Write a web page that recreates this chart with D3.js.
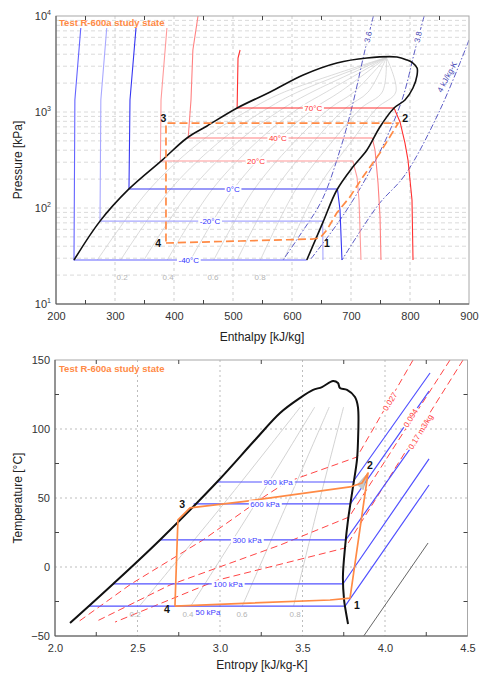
<!DOCTYPE html>
<html>
<head>
<meta charset="utf-8">
<script src="https://cdn.jsdelivr.net/npm/d3@7"></script>
<style>
  body { margin: 0; background: #fff; }
  svg { display: block; font-family: "Liberation Sans", Arial, sans-serif; }
</style>
</head>
<body>
<svg id="chart" width="480" height="677"></svg>
<script>
// ---------- P-h diagram (h kJ/kg, P kPa) ----------
const phDome = [[230.5,28.7],[274.6,73],[323.7,158],[380,316],[422,536],[456,715],[507,1101],[563,1615],[619,2427],[676,3237],[727,3652],[778,3743],[795,3481],[805,3237],[812,2872],[812,2427],[805,1778],[791.5,1334],[773,1101],[749,698],[727,402],[703,267],[676,154],[652,70],[625,28.7]]

// isotherms: liquid part (top -> saturation), flat two-phase part, superheated part
const isoM40 = [[242,7500],[232,1334],[230.5,28.7],[625,28.7]]
const isoM20 = [[286,7500],[276,1334],[274.6,73],[652,73],[652.5,28.7]]
const iso0 = [[335.6,7500],[325.4,1334],[323.7,158],[677,158],[681.4,95],[684.7,28.7]]
const iso20 = [[388,7500],[378,1334],[377,309],[703,309],[710.2,210],[713.6,121],[716.9,28.7]]
const iso40 = [[440.7,10000],[432,4424],[428.8,1334],[424,536],[736,536],[740.7,402],[745.8,182],[749.2,81],[750.8,28.7]]
const iso70 = [[512,4424],[508.5,3652],[507,1101],[773,1101],[783.1,787],[791.5,475],[796.6,316],[803.4,121],[805.1,28.7]]
const isoNames = ['-40°C', '-20°C', '0°C', '20°C', '40°C', '70°C']
const isoLabelH = [425, 461, 500, 539, 576, 636]
const isoLabelP = [28.7, 73, 158, 309, 536, 1101]

// vapour quality lines inside the dome
const qualityP = [28.7, 158, 536, 1101, 1615, 3700]
const qualityRowsPh = [
  [270, 359, 453, 533, 587, 760],
  [309.5, 394.6, 484.8, 559.6, 610, 760],
  [349, 430, 516, 586, 634, 760],
  [388.5, 465.4, 547.6, 612, 658, 760],
  [428, 501, 579, 638.5, 681, 760],
  [467.4, 536.3, 610.4, 664.8, 705, 760],
  [507, 572, 642, 691, 729, 760],
  [546.4, 607.1, 673.2, 717.4, 753, 760],
  [586, 643, 705, 744, 776, 760]
]
const qualityNames = ['0.2', '0.4', '0.6', '0.8']
const qualityLabelH = [312, 390, 466, 546]

// isentropes
const isen36 = [[738,10000],[723.7,4424],[701.7,1127],[681.4,402],[650.8,121],[613.6,52.3],[584.7,28.7]]
const isen38 = [[824,10000],[808.5,4424],[788.1,1432],[761,550],[723.7,196],[681.4,75],[630.5,28.7]]
const isen40 = [[900,5623],[850.8,1049],[791.5,221],[745.8,107],[684.7,28.7]]
const isenNames = ['3.6', '3.8', '4 kJ/kg-K']
const isenLabelH = [728.8, 813.6, 862.7]
const isenLabelP = [6040, 6040, 2317]

// study-state cycle
const cycPhH = [386.4, 512, 634, 647.5, 659, 676, 698, 720, 749, 780, 386.4, 386.4]
const cycPhP = [43.2, 45.3, 47.5, 48.7, 59, 89, 130, 210, 374, 765, 765, 43.2]
const cycNames = ['1', '2', '3', '4']
const cycLabelH = [659, 792, 382, 373]
const cycLabelP = [43.2, 866, 866, 43.2]

// ---------- T-s diagram (s kJ/kg-K, T °C) ----------
const tsDome = [[2.091,-40.6],[2.352,-12.3],[2.636,19.6],[2.982,61.6],[3.212,92.0],[3.364,111.6],[3.485,122.5],[3.564,128.3],[3.618,130.4],[3.685,134.8],[3.715,133.3],[3.727,129.7],[3.770,128.3],[3.818,123.2],[3.836,115.9],[3.836,89.9],[3.830,77.5],[3.806,58.0],[3.776,34.1],[3.758,14.5],[3.745,-7.2],[3.752,-23.9],[3.758,-29.0],[3.776,-41.3]]

const bar900 = [[2.982,61.6],[3.805,61.6],[4.273,140.6]]
const bar600 = [[2.840,45.7],[3.790,45.7],[4.267,127.5]]
const bar300 = [[2.636,19.6],[3.762,19.6],[4.267,105]]
const bar100 = [[2.352,-12.3],[3.745,-12.3],[4.267,78.3]]
const bar50 = [[2.204,-28.3],[3.758,-28.3],[4.267,59.4]]
const barNames = ['900 kPa', '600 kPa', '300 kPa', '100 kPa', '50 kPa']
const barLabelS = [3.352, 3.273, 3.164, 3.048, 2.927]
const barLabelT = [61.6, 45.7, 19.6, -12.3, -33]

const vol027 = [[4.170,150],[3.830,79.7],[3.406,61.6],[3.273,51.4],[2.897,19.6],[2.461,-12.3],[2.139,-39.9]]
const vol094 = [[4.394,150],[3.782,36.2],[3.364,15.9],[2.697,-13],[2.242,-39.9]]
const vol17 = [[4.473,150],[3.758,13.8],[2.988,-9.4],[2.364,-39.9]]
const volNames = ['0.027', '0.094', '0.17 m3/kg']
const volLabelS = [4.03, 4.155, 4.215]
const volLabelT = [120, 108, 98]

const qualityT = [-28.3, 45.7, 115.9]
const qualityRowsTs = [
  [2.512, 3.022, 3.487],
  [2.823, 3.214, 3.574],
  [3.135, 3.406, 3.662],
  [3.446, 3.598, 3.749]
]
const qualityLabelS = [2.485, 2.806, 3.133, 3.455]

const lowLine = [[3.867,-50.7],[4.261,17.4]]

const cycTsS = [2.727, 2.745, 2.818, 3.164, 3.788, 3.861, 3.897, 3.788, 3.667, 2.727]
const cycTsT = [-28.3, 34.1, 42.8, 47.8, 58.0, 60.9, 68.1, -22.5, -23.9, -28.3]
const hatch = [[3.830,59.4],[3.897,68.1],[3.867,55.8]]
const cycTsLabelS = [3.830, 3.909, 2.770, 2.679]
const cycTsLabelT = [-27.5, 73.9, 45.7, -30.4]

// ---------- layout ----------
const ph = { left: 56, right: 469, top: 16, bottom: 304 }
const ts = { left: 55, right: 467.5, top: 360, bottom: 636 }

const xPh = d3.scaleLinear().domain([200, 900]).range([ph.left, ph.right])
const yPh = d3.scaleLog().domain([10, 10000]).range([ph.bottom, ph.top])
const xTs = d3.scaleLinear().domain([2, 4.5]).range([ts.left, ts.right])
const yTs = d3.scaleLinear().domain([-50, 150]).range([ts.bottom, ts.top])

const svg = d3.select('#chart')
const defs = svg.append('defs')
function clip (id, b) {
  defs.append('clipPath').attr('id', id).append('rect')
    .attr('x', b.left).attr('y', b.top).attr('width', b.right - b.left).attr('height', b.bottom - b.top)
}
clip('clipPh', ph)
clip('clipTs', ts)

const orange = '#ff8a45'

// white-boxed text sitting on a line
function lineLabel (g, x, y, text, color, angle, size) {
  const grp = g.append('g').attr('transform', 'translate(' + x + ',' + y + ') rotate(' + (angle || 0) + ')')
  const t = grp.append('text').attr('text-anchor', 'middle').attr('dy', '0.35em')
    .attr('font-size', size || 8).attr('fill', color).text(text)
  const b = t.node().getBBox()
  grp.insert('rect', 'text').attr('x', b.x - 1.5).attr('y', b.y + 0.5).attr('width', b.width + 3).attr('height', b.height - 1).attr('fill', '#fff')
}

function frame (b, xMinor, yMinor, xs, ys) {
  const g = svg.append('g')
  g.append('rect').attr('x', b.left).attr('y', b.top).attr('width', b.right - b.left).attr('height', b.bottom - b.top)
    .attr('fill', 'none').attr('stroke', '#a8a8a8')
  g.append('line').attr('x1', b.left).attr('x2', b.left).attr('y1', b.top).attr('y2', b.bottom).attr('stroke', '#555')
  g.append('line').attr('x1', b.left).attr('x2', b.right).attr('y1', b.bottom).attr('y2', b.bottom).attr('stroke', '#555')
  xMinor.forEach(v => {
    g.append('line').attr('x1', xs(v)).attr('x2', xs(v)).attr('y1', b.bottom).attr('y2', b.bottom - 4).attr('stroke', '#444')
    g.append('line').attr('x1', xs(v)).attr('x2', xs(v)).attr('y1', b.top).attr('y2', b.top + 4).attr('stroke', '#444')
  })
  yMinor.forEach(v => {
    g.append('line').attr('x1', b.left).attr('x2', b.left + 4).attr('y1', ys(v)).attr('y2', ys(v)).attr('stroke', '#444')
    g.append('line').attr('x1', b.right).attr('x2', b.right - 4).attr('y1', ys(v)).attr('y2', ys(v)).attr('stroke', '#444')
  })
}

// ================= P-h chart =================
const gPh = svg.append('g').attr('clip-path', 'url(#clipPh)')
const linePh = d3.line().x(d => xPh(d[0])).y(d => yPh(d[1]))
const smoothPh = d3.line().x(d => xPh(d[0])).y(d => yPh(d[1])).curve(d3.curveCatmullRom)

gPh.selectAll('.gx').data([300, 400, 500, 600, 700, 800]).enter().append('line')
  .attr('x1', d => xPh(d)).attr('x2', d => xPh(d)).attr('y1', ph.top).attr('y2', ph.bottom)
  .attr('stroke', '#cfcfcf').attr('stroke-dasharray', '3,3')
gPh.selectAll('.gy').data(yPh.ticks().filter(d => d > 10 && d < 10000)).enter().append('line')
  .attr('x1', ph.left).attr('x2', ph.right).attr('y1', d => yPh(d)).attr('y2', d => yPh(d))
  .attr('stroke', '#dadada').attr('stroke-dasharray', '4,3')

qualityRowsPh.forEach(row => {
  gPh.append('path').attr('d', smoothPh(row.map((h, i) => [h, qualityP[i]])))
    .attr('fill', 'none').attr('stroke', '#d2d2d2').attr('stroke-width', 0.8)
})

;[isen36, isen38, isen40].forEach(pts => {
  gPh.append('path').attr('d', smoothPh(pts)).attr('fill', 'none')
    .attr('stroke', '#4a4ac0').attr('stroke-width', 0.9).attr('stroke-dasharray', '6,2,1.5,2')
})

const isoSeries = [isoM40, isoM20, iso0, iso20, iso40, iso70]
const isoColors = ['#6464ff', '#a8a8ff', '#3636f2', '#ff9a9a', '#ff8080', '#ff3030']
isoSeries.forEach((pts, i) => {
  gPh.append('path').attr('d', linePh(pts)).attr('fill', 'none')
    .attr('stroke', isoColors[i]).attr('stroke-width', 1.1)
})

gPh.append('path').attr('d', smoothPh(phDome)).attr('fill', 'none').attr('stroke', '#111').attr('stroke-width', 1.6)

gPh.append('path').attr('d', linePh(cycPhH.map((h, i) => [h, cycPhP[i]]))).attr('fill', 'none')
  .attr('stroke', orange).attr('stroke-width', 1.7).attr('stroke-dasharray', '8,4')

const labPh = svg.append('g')
isoNames.forEach((n, i) => {
  lineLabel(labPh, xPh(isoLabelH[i]), yPh(isoLabelP[i]), n, i < 3 ? '#3030ff' : '#ff3030', 0, 8)
})
isenNames.forEach((n, i) => {
  lineLabel(labPh, xPh(isenLabelH[i]), yPh(isenLabelP[i]), n, '#4040b0', i < 2 ? -78 : -62, 8)
})
qualityNames.forEach((n, i) => {
  labPh.append('text').attr('x', xPh(qualityLabelH[i])).attr('y', yPh(19.1)).attr('dy', '0.35em')
    .attr('text-anchor', 'middle').attr('font-size', 8).attr('fill', '#b5b5b5').text(n)
})
cycNames.forEach((n, i) => {
  labPh.append('text').attr('x', xPh(cycLabelH[i])).attr('y', yPh(cycLabelP[i])).attr('dy', '0.35em')
    .attr('text-anchor', 'middle').attr('font-size', 10.5).attr('font-weight', 'bold').attr('fill', '#111').text(n)
})
labPh.append('text').attr('x', ph.left + 3).attr('y', 25.5).attr('font-size', 9.5).attr('font-weight', 'bold')
  .attr('fill', orange).text('Test R-600a study state')

frame(ph, [250, 350, 450, 550, 650, 750, 850], [], xPh, yPh)

svg.append('g').attr('transform', 'translate(0,' + ph.bottom + ')')
  .call(d3.axisBottom(xPh).tickValues([200, 300, 400, 500, 600, 700, 800, 900]).tickSize(0).tickPadding(8))
  .call(g => g.select('.domain').remove())
  .selectAll('text').attr('font-size', 11).attr('fill', '#333').attr('font-family', '"Liberation Sans", Arial, sans-serif')

const phMajors = [10, 100, 1000, 10000]
phMajors.forEach((p, i) => {
  const t = svg.append('text').attr('x', ph.left - 5).attr('y', yPh(p) + 4).attr('text-anchor', 'end')
    .attr('font-size', 11).attr('fill', '#333')
  t.append('tspan').text('10')
  t.append('tspan').attr('font-size', 7).attr('dy', -5).text(String(i + 1))
})

svg.append('text').attr('x', 262).attr('y', 341).attr('text-anchor', 'middle').attr('font-size', 12).attr('fill', '#222')
  .text('Enthalpy [kJ/kg]')
svg.append('text').attr('transform', 'translate(22,160) rotate(-90)').attr('text-anchor', 'middle')
  .attr('font-size', 12).attr('fill', '#222').text('Pressure [kPa]')

// ================= T-s chart =================
const gTs = svg.append('g').attr('clip-path', 'url(#clipTs)')
const lineTs = d3.line().x(d => xTs(d[0])).y(d => yTs(d[1]))
const smoothTs = d3.line().x(d => xTs(d[0])).y(d => yTs(d[1])).curve(d3.curveCatmullRom)

gTs.selectAll('.gx').data([2.5, 3.0, 3.5, 4.0]).enter().append('line')
  .attr('x1', d => xTs(d)).attr('x2', d => xTs(d)).attr('y1', ts.top).attr('y2', ts.bottom)
  .attr('stroke', '#bdbdbd').attr('stroke-dasharray', '2,3')
gTs.selectAll('.gy').data([0, 50, 100]).enter().append('line')
  .attr('x1', ts.left).attr('x2', ts.right).attr('y1', d => yTs(d)).attr('y2', d => yTs(d))
  .attr('stroke', '#bdbdbd').attr('stroke-dasharray', '2,3')

qualityRowsTs.forEach(row => {
  gTs.append('path').attr('d', smoothTs(row.map((s, i) => [s, qualityT[i]])))
    .attr('fill', 'none').attr('stroke', '#cdcdcd').attr('stroke-width', 0.9)
})

gTs.append('path').attr('d', lineTs(lowLine)).attr('fill', 'none').attr('stroke', '#555').attr('stroke-width', 0.9)

;[vol027, vol094, vol17].forEach(pts => {
  gTs.append('path').attr('d', lineTs(pts)).attr('fill', 'none')
    .attr('stroke', '#ff4545').attr('stroke-width', 1).attr('stroke-dasharray', '7,4')
})

;[bar900, bar600, bar300, bar100, bar50].forEach(pts => {
  gTs.append('path').attr('d', lineTs(pts)).attr('fill', 'none').attr('stroke', '#5252ff').attr('stroke-width', 1.2)
})

gTs.append('path').attr('d', smoothTs(tsDome)).attr('fill', 'none').attr('stroke', '#111').attr('stroke-width', 2)

gTs.append('path').attr('d', lineTs(hatch)).attr('fill', '#c9c9c9').attr('stroke', '#999').attr('stroke-width', 0.5)
gTs.append('path').attr('d', lineTs(cycTsS.map((s, i) => [s, cycTsT[i]]))).attr('fill', 'none')
  .attr('stroke', orange).attr('stroke-width', 1.7).attr('stroke-linejoin', 'round')

const labTs = svg.append('g')
barNames.forEach((n, i) => {
  if (i < 4) lineLabel(labTs, xTs(barLabelS[i]), yTs(barLabelT[i]), n, '#3c3cff', 0, 8)
  else labTs.append('text').attr('x', xTs(barLabelS[i])).attr('y', yTs(barLabelT[i])).attr('dy', '0.35em')
    .attr('text-anchor', 'middle').attr('font-size', 8).attr('fill', '#3c3cff').text(n)
})
volNames.forEach((n, i) => {
  lineLabel(labTs, xTs(volLabelS[i]), yTs(volLabelT[i]), n, '#ff4040', -58, 8)
})
qualityNames.forEach((n, i) => {
  labTs.append('text').attr('x', xTs(qualityLabelS[i])).attr('y', yTs(-34)).attr('dy', '0.35em')
    .attr('text-anchor', 'middle').attr('font-size', 8).attr('fill', '#b5b5b5').text(n)
})
cycNames.forEach((n, i) => {
  labTs.append('text').attr('x', xTs(cycTsLabelS[i])).attr('y', yTs(cycTsLabelT[i])).attr('dy', '0.35em')
    .attr('text-anchor', 'middle').attr('font-size', 10.5).attr('font-weight', 'bold').attr('fill', '#111').text(n)
})
labTs.append('text').attr('x', ts.left + 4).attr('y', 371.5).attr('font-size', 9.5).attr('font-weight', 'bold')
  .attr('fill', orange).text('Test R-600a study state')

frame(ts, [2.25, 2.75, 3.25, 3.75, 4.25], [-25, 25, 75, 125], xTs, yTs)

svg.append('g').attr('transform', 'translate(0,' + ts.bottom + ')')
  .call(d3.axisBottom(xTs).tickValues([2, 2.5, 3, 3.5, 4, 4.5]).tickFormat(d3.format('.1f')).tickSize(0).tickPadding(8))
  .call(g => g.select('.domain').remove())
  .selectAll('text').attr('font-size', 11).attr('fill', '#333').attr('font-family', '"Liberation Sans", Arial, sans-serif')
svg.append('g').attr('transform', 'translate(' + ts.left + ',0)')
  .call(d3.axisLeft(yTs).tickValues([-50, 0, 50, 100, 150]).tickSize(0).tickPadding(5))
  .call(g => g.select('.domain').remove())
  .selectAll('text').attr('font-size', 11).attr('fill', '#333').attr('font-family', '"Liberation Sans", Arial, sans-serif')

svg.append('text').attr('x', 262).attr('y', 669).attr('text-anchor', 'middle').attr('font-size', 12).attr('fill', '#222')
  .text('Entropy [kJ/kg-K]')
svg.append('text').attr('transform', 'translate(22,498) rotate(-90)').attr('text-anchor', 'middle')
  .attr('font-size', 12).attr('fill', '#222').text('Temperature [°C]')
</script>
</body>
</html>
